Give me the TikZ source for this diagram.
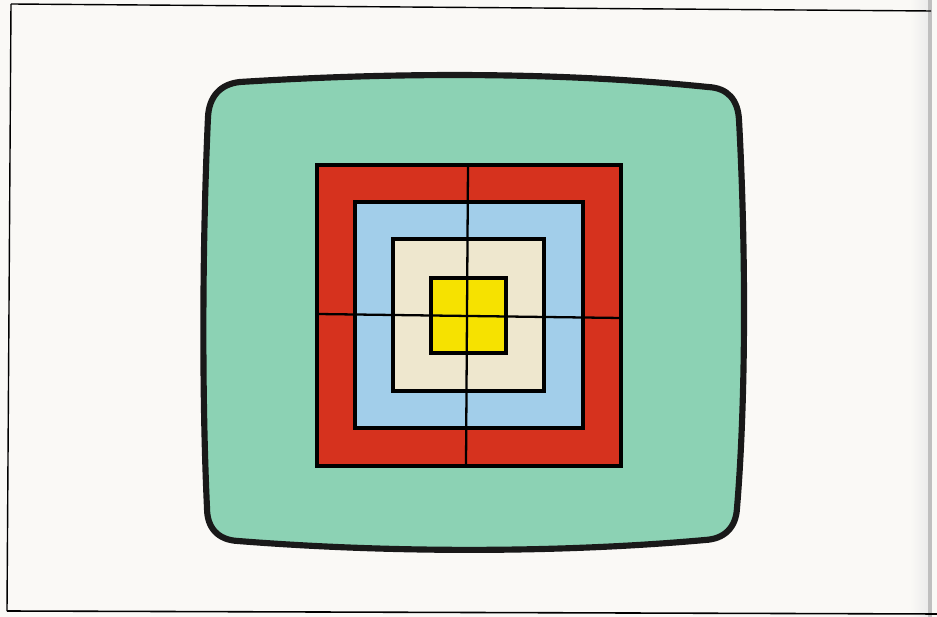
\documentclass[tikz,border=0pt]{standalone}
\usepackage{tikz}
\usetikzlibrary{positioning}
\definecolor{paper}{RGB}{250,249,246}
\definecolor{screengreen}{RGB}{140,210,180}
\definecolor{ringred}{RGB}{214,50,30}
\definecolor{ringblue}{RGB}{162,206,234}
\definecolor{ringcream}{RGB}{238,231,206}
\definecolor{ringyellow}{RGB}{246,226,0}
\newcommand{\tvScreen}{(240,82) .. controls (400,72) and (560,72) .. (708,87)
  .. controls (728,88) and (738,100) .. (739,120)
  .. controls (746,250) and (746,400) .. (737,508)
  .. controls (736,528) and (724,539) .. (705,540)
  .. controls (560,553) and (390,553) .. (238,541)
  .. controls (218,540) and (207,528) .. (207,508)
  .. controls (202,400) and (202,250) .. (208,117)
  .. controls (209,97) and (220,84) .. (240,82) -- cycle}
\newcommand{\sqRed}{(317,165) rectangle (621,466)}
\newcommand{\sqBlue}{(355,202) rectangle (583,428)}
\newcommand{\sqCream}{(393,239) rectangle (544,391)}
\newcommand{\sqYellow}{(431,278) rectangle (506,353)}

\begin{document}
\begin{tikzpicture}[x=0.02cm,y=-0.02cm]
\useasboundingbox (0,0) rectangle (937,617);
\fill[paper] (0,0) rectangle (937,617);
% page edge on the right
\shade[left color=paper,right color=gray!15] (910,0) rectangle (928,617);
\fill[gray!50] (928,0) rectangle (932,617);
\draw[line width=0.8pt] (11,4) -- (931,11);
\draw[line width=0.8pt] (11,4) -- (7,611);
\draw[line width=0.9pt] (7,611) -- (937,614);
% screen
\draw[line width=3.5pt,fill=screengreen,draw=black!90] \tvScreen;
% target squares
\begin{scope}[line width=2.5pt]
\draw[fill=ringred] \sqRed;
\draw[fill=ringblue] \sqBlue;
\draw[fill=ringcream] \sqCream;
\draw[fill=ringyellow] \sqYellow;
\end{scope}
\draw[line width=1.3pt] (468,165) -- (466,466);
\draw[line width=1.3pt] (317,314) -- (621,318);
\end{tikzpicture}
\end{document}
